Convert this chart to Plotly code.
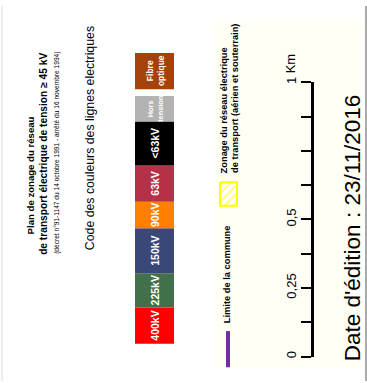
"""
Legend panel of the 'Plan de zonage du réseau de transport électrique' map
(rotated layout: every text reads bottom to top)
"""

import plotly.graph_objects as go

W, H = 367, 383

# line voltage legend, from the bottom box upwards
line_labels = ['400kV', '225kV', '150kV', '90kV', '63kV', '<63kV', 'Hors<br>tension', 'Fibre<br>optique']
line_colors = ['#FF0000', '#41704B', '#3A4878', '#FF8000', '#B53148', '#000000', '#B3B3B3', '#A5420C']
box_lengths = [37, 35, 46, 27, 37, 45, 26, 37]
box_gaps = [0, 0, 0, 0, 0, 0, 0, 7]

# scale bar (km)
scale_km = [0, 0.125, 0.25, 0.375, 0.5, 0.625, 0.75, 0.875, 1.0]
scale_text = ['0', '', '0,25', '', '0,5', '', '', '', '1']

ARIAL = 'Liberation Sans, Arial, sans-serif'

fig = go.Figure()

# colour boxes as stacked bars on a pixel axis (y grows downwards)
bottom = 345
bases = []
pos = bottom
for length, gap in zip(box_lengths, box_gaps):
    pos -= gap
    bases.append(pos - length)
    pos -= length

fig.add_trace(go.Bar(
    x=[154.5] * len(line_labels), y=box_lengths, base=bases, width=39,
    marker=dict(color=line_colors, line=dict(width=0)),
    showlegend=False, hoverinfo='skip'
))
for label, base, length in zip(line_labels, bases, box_lengths):
    if '<br>' in label:
        size = 7.3 if length < 30 else 8.5
    else:
        size = 10.5
    fig.add_annotation(
        x=155, y=base + length / 2, text='<b>%s</b>' % label,
        textangle=-90, showarrow=False,
        font=dict(family=ARIAL, size=size, color='white'),
        xanchor='center', yanchor='middle'
    )

# invisible trace carrying the scale axis
fig.add_trace(go.Scatter(x=[None], y=[None], yaxis='y2', showlegend=False))

# hatched "zonage" symbol
fig.add_trace(go.Scatter(
    x=[220, 237, 237, 220, 220], y=[180, 180, 204, 204, 180],
    mode='lines', fill='toself',
    fillcolor='white',
    fillpattern=dict(shape='/', fgcolor='#FFFF00', bgcolor='white', size=6, solidity=0.35),
    line=dict(color='#FFFF00', width=2),
    showlegend=False, hoverinfo='skip'
))

shapes = [
    # light cream panel behind legend/scale
    dict(type='rect', x0=213, x1=363, y0=13, y1=370, fillcolor='#FFFFF6',
         line=dict(width=0), layer='below'),
    # frame lines
    dict(type='line', x0=2, x1=2, y0=0, y1=383, line=dict(color='#DDDDDD', width=1)),
    dict(type='line', x0=366, x1=366, y0=0, y1=383, line=dict(color='#AAAAAA', width=2)),
    # commune limit symbol
    dict(type='line', x0=228, x1=228, y0=332, y1=369, line=dict(color='#7030A0', width=4)),
]

texts = [
    # (text, x, y, size, yanchor)
    ('<b>Plan de zonage du réseau</b>', 30, 173, 9.6, 'middle'),
    ('<b>de transport électrique de tension ≥ 45 kV</b>', 44, 151, 10.2, 'middle'),
    ('(décret n°91-1147 du 14 octobre 1991 - arrêté du 16 novembre 1994)', 57, 150, 6.6, 'middle'),
    ('Code des couleurs des lignes electriques', 90, 135, 12.3, 'middle'),
    ('<b>Limite de la commune</b>', 227, 326, 9.3, 'bottom'),
    ('<b>Zonage du réseau électrique</b>', 224, 173, 9.3, 'bottom'),
    ('<b>de transport (aérien et souterrain)</b>', 235, 173, 9.3, 'bottom'),
    ("Date d'édition : 23/11/2016", 352, 227, 22.5, 'middle'),
]
for txt, x, y, size, yanchor in texts:
    fig.add_annotation(
        x=x, y=y, text=txt, textangle=-90, showarrow=False,
        font=dict(family=ARIAL, size=size, color='black'),
        xanchor='center', yanchor=yanchor
    )

# "Km" unit next to the 1 tick
fig.add_annotation(
    x=290, xref='x', y=1, yref='y2', text='Km', textangle=-90, showarrow=False,
    font=dict(family=ARIAL, size=13, color='black'),
    xanchor='center', yanchor='bottom', yshift=7
)

y0 = (H - 358) / H
y1 = (H - 78) / H

fig.update_layout(
    width=W, height=H,
    margin=dict(l=0, r=0, t=0, b=0),
    paper_bgcolor='white', plot_bgcolor='rgba(0,0,0,0)',
    barmode='overlay', shapes=shapes,
    xaxis=dict(range=[0, W], visible=False, fixedrange=True),
    yaxis=dict(range=[H, 0], visible=False, fixedrange=True),
    yaxis2=dict(
        domain=[y0, y1], range=[0, 1], anchor='free', position=312 / W,
        side='left', showline=True, linecolor='black', linewidth=2.5,
        ticks='outside', ticklen=10, tickwidth=2, tickcolor='black',
        tickvals=scale_km, ticktext=scale_text, tickangle=-90,
        tickfont=dict(family=ARIAL, size=13, color='black'),
        showgrid=False, zeroline=False, fixedrange=True
    ),
)

# the page has a default 8px body margin; drop it so the figure sits at 0,0
fig.write_html("out.html", config={'displayModeBar': False},
               post_script="document.body.style.margin='0';")
